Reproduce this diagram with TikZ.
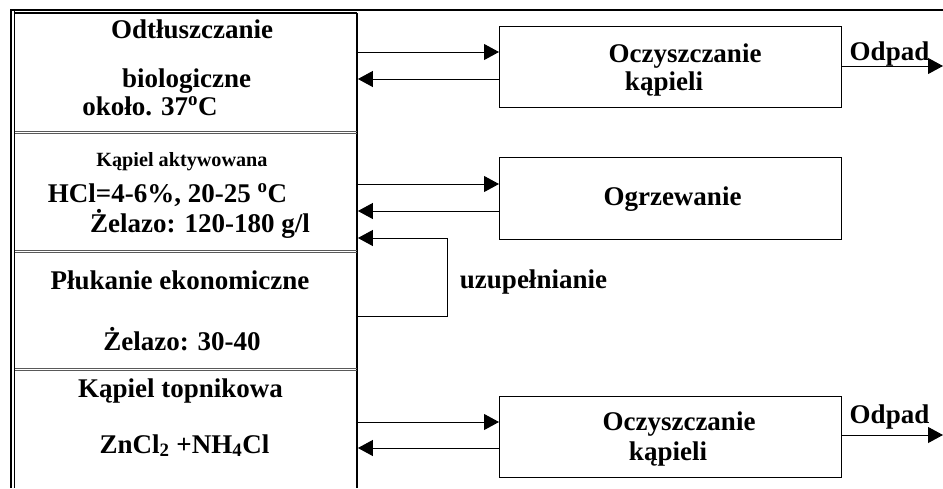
\documentclass[tikz,border=0pt]{standalone}
\usepackage{fontspec}
\setmainfont{Liberation Serif}
\usetikzlibrary{arrows.meta}
\tikzset{
  txt/.style={anchor=base, inner sep=0pt, font=\fontsize{27}{30}\selectfont\bfseries},
  small/.style={anchor=base, inner sep=0pt, font=\fontsize{20.2}{23}\selectfont\bfseries},
  procbox/.style={draw, line width=1.2pt, rectangle, minimum width=342pt, minimum height=81pt, anchor=north west, inner sep=0pt},
  section/.style={rectangle, anchor=north west, inner sep=0pt, minimum width=343pt},
  conn/.style={line width=1pt},
  arr/.style={line width=1pt, -{Triangle[length=15pt,width=16pt]}},
  divider/.style={draw=gray!70!black, line width=0.9pt},
}
\begin{document}
\begin{tikzpicture}[x=1pt,y=-1pt]
\useasboundingbox (0,0) rectangle (943,488);
% frame
\draw[line width=2.6pt] (10,10) -- (943,10);
\draw[line width=1.4pt] (11,10) -- (11,488);
\draw[line width=1.4pt] (14.5,10) -- (14.5,488);
\draw[line width=1.1pt] (14.5,13) -- (357,13);
\draw[line width=1.2pt] (357,13) -- (357,488);
% dividers (double)
\foreach \yy in {132.5,251.5,369.5}{
  \draw[divider] (14.5,\yy-1.2) -- (357,\yy-1.2);
  \draw[divider] (14.5,\yy+1.2) -- (357,\yy+1.2);
}
% left sections (named)
\node[section, minimum height=119pt] (secA) at (14.5,13) {};
\node[section, minimum height=118pt] (secB) at (14.5,133) {};
\node[section, minimum height=118pt] (secC) at (14.5,252) {};
\node[section, minimum height=118pt] (secD) at (14.5,370) {};
% left texts
\node[txt] (a1) at (192,38) {Odtłuszczanie};
\node[txt] (a2) at (186.5,87) {biologiczne};
\node[txt] (a3) at (150,115) {około. 37\textsuperscript{o}C};
\node[small] (b1) at (182,166) {Kąpiel aktywowana};
\node[txt] (b2) at (167.5,202) {HCl=4-6\%, 20-25 \textsuperscript{o}C};
\node[txt] (b3) at (200,232) {Żelazo: 120-180 g/l};
\node[txt] (c1) at (180,289) {Płukanie ekonomiczne};
\node[txt] (c2) at (182,350) {Żelazo: 30-40};
\node[txt] (d1) at (180.5,397) {Kąpiel topnikowa};
\node[txt] (d2) at (184.5,453) {ZnCl\textsubscript{2} +NH\textsubscript{4}Cl};
% right boxes
\node[procbox] (box1) at (499,26) {};
\node[procbox, minimum height=82pt] (box2) at (499,157) {};
\node[procbox] (box3) at (499,396) {};
\node[txt] (r1a) at (685,62) {Oczyszczanie};
\node[txt] (r1b) at (664,90) {kąpieli};
\node[txt] (r2) at (672.5,205) {Ogrzewanie};
\node[txt] (r3a) at (679,430) {Oczyszczanie};
\node[txt] (r3b) at (668,460) {kąpieli};
\node[txt] (o1) at (889.5,60) {Odpad};
\node[txt] (o3) at (889.5,423) {Odpad};
\node[txt] (uz) at (533.5,288) {uzupełnianie};
% connector levels
\coordinate (y1) at (0,52);
\coordinate (y2) at (0,79);
\coordinate (y3) at (0,184);
\coordinate (y4) at (0,211);
\coordinate (y5) at (0,422);
\coordinate (y6) at (0,448);
\coordinate (out1) at (943,66);
\coordinate (out3) at (943,435);
\coordinate (loopT) at (447,238);
\coordinate (loopB) at (447,316);
% connectors
\draw[arr] ([xshift=-2pt]secA.east |- y1) -- (box1.west |- y1);
\draw[arr] (box1.west |- y2) -- (secA.east |- y2);
\draw[arr] ([xshift=-2pt]secB.east |- y3) -- (box2.west |- y3);
\draw[arr] (box2.west |- y4) -- (secB.east |- y4);
\draw[conn] ([xshift=-2pt]secC.east |- loopB) -- (loopB) -- (loopT);
\draw[arr] (loopT) -- (secB.east |- loopT);
\draw[arr] ([xshift=-2pt]secD.east |- y5) -- (box3.west |- y5);
\draw[arr] (box3.west |- y6) -- (secD.east |- y6);
\draw[arr] (box1.east |- out1) -- (out1);
\draw[arr] (box3.east |- out3) -- (out3);
\end{tikzpicture}
\end{document}
